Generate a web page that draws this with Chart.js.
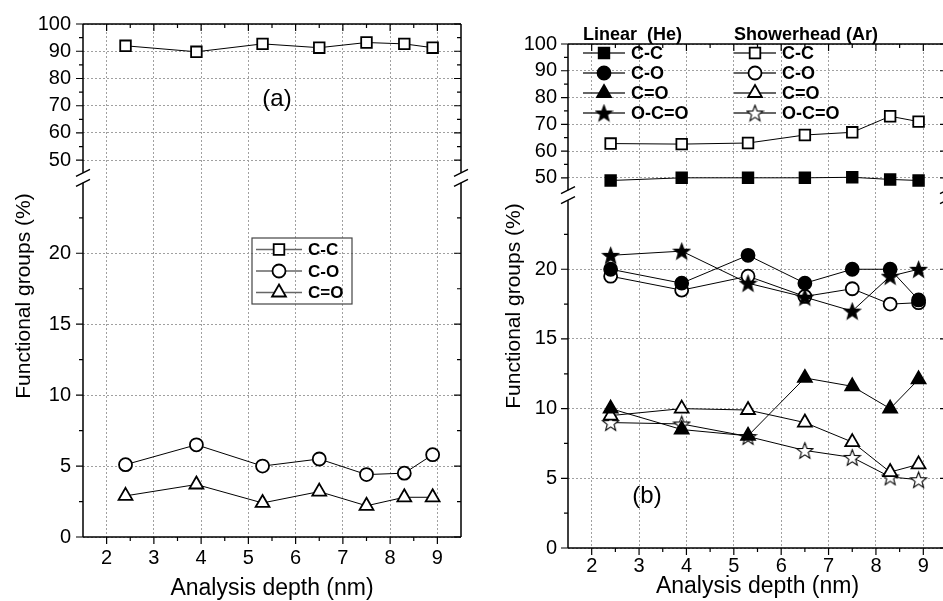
<!DOCTYPE html>
<html lang="en">
<head>
<meta charset="UTF-8" />
<title>Functional groups vs analysis depth</title>
<style>
  html, body { margin: 0; padding: 0; background: #fff; overflow: hidden; }
  #wrap { position: relative; width: 943px; height: 601px; overflow: hidden; }
  canvas { position: absolute; top: 0; }
  #chartA { left: 0; }
  #chartB { left: 480px; }
</style>
<script src="https://cdn.jsdelivr.net/npm/chart.js@4.4.0/dist/chart.umd.min.js"></script>
</head>
<body>
<div id="wrap">
  <canvas id="chartA" width="480" height="601"></canvas>
  <canvas id="chartB" width="480" height="601"></canvas>
</div>
<script>
// analysis depth (nm), same for every series
const depth = [2.4, 3.9, 5.3, 6.5, 7.5, 8.3, 8.9];

// panel (a)
const aCC  = [92, 89.8, 92.7, 91.3, 93.2, 92.7, 91.3];
const aCO  = [5.1, 6.5, 5.0, 5.5, 4.4, 4.5, 5.8];
const aCdO = [2.9, 3.7, 2.4, 3.2, 2.2, 2.8, 2.8];

// panel (b) - Linear (He)
const linCC  = [49, 50, 50, 50, 50.2, 49.4, 49];
const linCO  = [20, 19, 21, 19, 20, 20, 17.8];
const linCdO = [10, 8.5, 8.05, 12.2, 11.6, 10, 12.1];
const linOCO = [21, 21.3, 19, 18, 17, 19.5, 20];
// panel (b) - Showerhead (Ar)
const shCC  = [62.8, 62.6, 63, 66, 67, 73, 71];
const shCO  = [19.5, 18.5, 19.5, 18.05, 18.6, 17.5, 17.6];
const shCdO = [9.5, 10, 9.9, 9, 7.6, 5.45, 6];
const shOCO = [9, 8.9, 8, 7, 6.5, 5.1, 4.9];

const xTicks = [2, 3, 4, 5, 6, 7, 8, 9];
const xMinor = [2.5, 3.5, 4.5, 5.5, 6.5, 7.5, 8.5];
const yTicksTop = [50, 60, 70, 80, 90, 100];
const yMinorTop = [55, 65, 75, 85, 95];
const yTicksBot = [0, 5, 10, 15, 20];
const yMinorBot = [2.5, 7.5, 12.5, 17.5, 22.5];

const fontFam = '"Liberation Sans", Arial, sans-serif';

function makeStar(filled) {
  const c = document.createElement('canvas');
  c.width = c.height = 19;
  const g = c.getContext('2d');
  g.beginPath();
  for (let i = 0; i < 10; i++) {
    const ang = -Math.PI / 2 + i * Math.PI / 5;
    const rad = i % 2 ? 3.6 : 8.5;
    g.lineTo(9.5 + rad * Math.cos(ang), 10.3 + rad * Math.sin(ang));
  }
  g.closePath();
  g.fillStyle = filled ? '#000' : '#fff';
  g.fill();
  g.lineWidth = 1.1;
  g.strokeStyle = '#000';
  g.stroke();
  return c;
}
const starFilled = makeStar(true);
const starOpen = makeStar(false);

const radius = { rect: 7.5, circle: 6.5, triangle: 8 };

function series(label, values, axis, style, filled) {
  const isImg = typeof style !== 'string';
  return {
    label,
    data: depth.map((x, i) => ({ x, y: values[i] })),
    yAxisID: axis,
    borderColor: '#000',
    borderWidth: 1,
    pointStyle: style,
    pointRadius: isImg ? 8 : radius[style],
    pointBorderWidth: 1.8,
    pointBackgroundColor: filled ? '#000' : '#fff',
    pointBorderColor: '#000',
    fill: false,
    tension: 0
  };
}

function buildScales(yWidth, xHeight, yPad, xPad) {
  const tickFont = { family: fontFam, size: 20 };
  const grid = { color: '#a0a0a0', drawTicks: false, lineWidth: 1 };
  const border = { display: false, dash: [2, 2] };
  return {
    x: {
      type: 'linear', min: 1.5, max: 9.5,
      afterBuildTicks: s => { s.ticks = xTicks.map(v => ({ value: v })); },
      afterFit: s => { s.height = xHeight; },
      ticks: { color: '#000', font: tickFont, padding: xPad, autoSkip: false, maxRotation: 0 },
      grid, border
    },
    yBot: {
      type: 'linear', position: 'left', stack: 'y', stackWeight: 366,
      min: 0, max: 25.6,
      afterBuildTicks: s => { s.ticks = yTicksBot.map(v => ({ value: v })); },
      afterFit: s => { s.width = yWidth; },
      ticks: { color: '#000', font: tickFont, padding: yPad, autoSkip: false },
      grid, border
    },
    yTop: {
      type: 'linear', position: 'left', stack: 'y', stackWeight: 151,
      min: 45, max: 100,
      afterBuildTicks: s => { s.ticks = yTicksTop.map(v => ({ value: v })); },
      afterFit: s => { s.width = yWidth; },
      ticks: { color: '#000', font: tickFont, padding: yPad, autoSkip: false },
      grid, border
    }
  };
}

function drawMarker(ctx, style, filled, x, y) {
  ctx.save();
  ctx.fillStyle = filled ? '#000' : '#fff';
  ctx.strokeStyle = '#000';
  ctx.lineWidth = 1.8;
  const isImg = typeof style !== 'string';
  Chart.helpers.drawPoint(ctx, { pointStyle: style, radius: isImg ? 8 : radius[style], borderWidth: 1.8, rotation: 0 }, x, y);
  ctx.restore();
}

// frame, break marks, tick marks, titles and legend
const decor = {
  id: 'decor',
  afterDraw(chart, args, o) {
    const { ctx, chartArea: a } = chart;
    const sx = chart.scales.x, st = chart.scales.yTop, sb = chart.scales.yBot;
    const yb = st.bottom;
    const g1 = yb - 1, g2 = yb + 9;
    ctx.save();
    ctx.strokeStyle = '#000';
    ctx.lineWidth = 1.5;
    ctx.beginPath();
    ctx.moveTo(a.left, a.top); ctx.lineTo(a.right, a.top);
    ctx.moveTo(a.left, a.bottom); ctx.lineTo(a.right, a.bottom);
    [a.left, a.right].forEach(x => {
      ctx.moveTo(x, a.top); ctx.lineTo(x, g1);
      ctx.moveTo(x, g2); ctx.lineTo(x, a.bottom);
    });
    ctx.stroke();
    ctx.beginPath();
    [a.left, a.right].forEach(x => {
      [g1, g2].forEach(y => { ctx.moveTo(x - 7, y + 3.5); ctx.lineTo(x + 7, y - 3.5); });
    });
    ctx.stroke();

    ctx.lineWidth = 1.2;
    ctx.beginPath();
    const t = (x1, y1, x2, y2) => { ctx.moveTo(x1, y1); ctx.lineTo(x2, y2); };
    const xt = (vals, L) => vals.forEach(v => {
      const x = sx.getPixelForValue(v);
      t(x, a.bottom, x, a.bottom + L);
      t(x, a.top, x, a.top + L);
    });
    const yt = (scale, vals, L) => vals.forEach(v => {
      const y = scale.getPixelForValue(v);
      t(a.left, y, a.left - L, y);
      t(a.right, y, a.right - L, y);
    });
    xt(xTicks, 7); xt(xMinor, 4);
    yt(st, yTicksTop, 7); yt(st, yMinorTop, 4);
    yt(sb, yTicksBot, 7); yt(sb, yMinorBot, 4);
    ctx.stroke();

    ctx.fillStyle = '#000';
    ctx.textAlign = 'center';
    ctx.textBaseline = 'middle';
    ctx.font = '23px ' + fontFam;
    ctx.fillText('Analysis depth (nm)', (a.left + a.right) / 2, o.xTitleY);
    ctx.font = '24px ' + fontFam;
    ctx.fillText(o.label, o.labelX, o.labelY);
    ctx.save();
    ctx.translate(o.yTitleX, o.yTitleY);
    ctx.rotate(-Math.PI / 2);
    ctx.font = '21px ' + fontFam;
    ctx.fillText('Functional groups (%)', 0, 0);
    ctx.restore();

    // legend
    const lg = o.legend;
    if (lg.box) {
      ctx.strokeStyle = '#444';
      ctx.lineWidth = 1.2;
      ctx.strokeRect(lg.box[0], lg.box[1], lg.box[2], lg.box[3]);
    }
    ctx.textAlign = 'left';
    ctx.font = 'bold ' + lg.size + 'px ' + fontFam;
    (lg.headers || []).forEach(h => ctx.fillText(h.text, h.x, h.y));
    lg.cols.forEach(col => {
      col.items.forEach((it, i) => {
        const y = lg.y0 + i * lg.dy;
        ctx.strokeStyle = lg.lineColor;
        ctx.lineWidth = 1.4;
        ctx.beginPath();
        ctx.moveTo(col.x, y); ctx.lineTo(col.x + lg.lineLen, y);
        ctx.stroke();
        drawMarker(ctx, it.style, it.filled, col.x + lg.lineLen / 2, y);
        ctx.fillStyle = '#000';
        ctx.fillText(it.text, col.x + lg.lineLen + lg.gap, y + 1);
      });
    });
    ctx.restore();
  }
};

new Chart(document.getElementById('chartA').getContext('2d'), {
  type: 'line',
  data: {
    datasets: [
      series('C-C', aCC, 'yTop', 'rect', false),
      series('C-O', aCO, 'yBot', 'circle', false),
      series('C=O', aCdO, 'yBot', 'triangle', false)
    ]
  },
  options: {
    responsive: false,
    animation: false,
    layout: { padding: { left: 0, top: 20, right: 19, bottom: 0 } },
    scales: buildScales(83, 64, 12, 9),
    plugins: {
      legend: { display: false },
      tooltip: { enabled: false },
      decor: {
        xTitleY: 589, yTitleX: 24, yTitleY: 296,
        label: '(a)', labelX: 277, labelY: 99,
        legend: {
          box: [252, 238, 100, 66], size: 17, lineColor: '#666',
          y0: 249.5, dy: 21.5, lineLen: 46, gap: 6,
          cols: [{ x: 256, items: [
            { style: 'rect', filled: false, text: 'C-C' },
            { style: 'circle', filled: false, text: 'C-O' },
            { style: 'triangle', filled: false, text: 'C=O' }
          ] }]
        }
      }
    }
  },
  plugins: [decor]
});

new Chart(document.getElementById('chartB').getContext('2d'), {
  type: 'line',
  data: {
    datasets: [
      series('Linear C-C', linCC, 'yTop', 'rect', true),
      series('Linear C-O', linCO, 'yBot', 'circle', true),
      series('Linear C=O', linCdO, 'yBot', 'triangle', true),
      series('Linear O-C=O', linOCO, 'yBot', starFilled, true),
      series('Showerhead C-C', shCC, 'yTop', 'rect', false),
      series('Showerhead C-O', shCO, 'yBot', 'circle', false),
      series('Showerhead C=O', shCdO, 'yBot', 'triangle', false),
      series('Showerhead O-C=O', shOCO, 'yBot', starOpen, false)
    ]
  },
  options: {
    responsive: false,
    animation: false,
    layout: { padding: { left: 0, top: 44, right: 13, bottom: 0 } },
    scales: buildScales(88, 53, 11, 6),
    plugins: {
      legend: { display: false },
      tooltip: { enabled: false },
      decor: {
        xTitleY: 587, yTitleX: 34, yTitleY: 306,
        label: '(b)', labelX: 167, labelY: 496,
        legend: {
          size: 18, lineColor: '#333',
          headers: [
            { text: 'Linear  (He)', x: 103, y: 35 },
            { text: 'Showerhead (Ar)', x: 254, y: 35 }
          ],
          y0: 53, dy: 20, lineLen: 42, gap: 6,
          cols: [
            { x: 103, items: [
              { style: 'rect', filled: true, text: 'C-C' },
              { style: 'circle', filled: true, text: 'C-O' },
              { style: 'triangle', filled: true, text: 'C=O' },
              { style: starFilled, filled: true, text: 'O-C=O' }
            ] },
            { x: 254, items: [
              { style: 'rect', filled: false, text: 'C-C' },
              { style: 'circle', filled: false, text: 'C-O' },
              { style: 'triangle', filled: false, text: 'C=O' },
              { style: starOpen, filled: false, text: 'O-C=O' }
            ] }
          ]
        }
      }
    }
  },
  plugins: [decor]
});
</script>
</body>
</html>
